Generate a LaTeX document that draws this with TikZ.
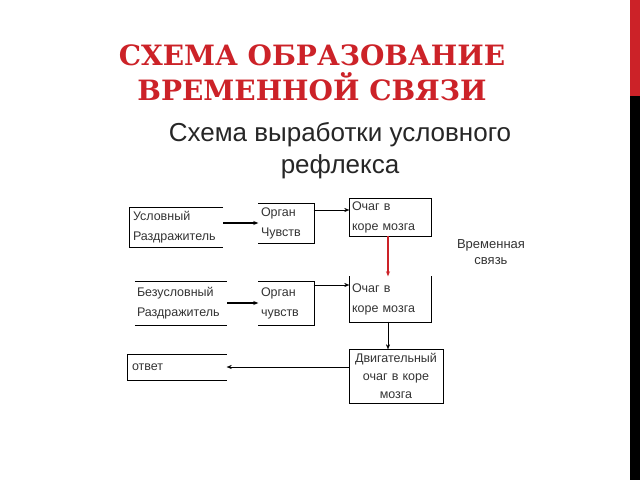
\documentclass[tikz,border=0pt]{standalone}
\usepackage{fontspec}
\setmainfont{Liberation Sans}
\newfontfamily\headfont{DejaVu Serif}
\usetikzlibrary{positioning,arrows.meta}
\definecolor{headred}{RGB}{204,34,40}
\begin{document}
\begin{tikzpicture}[x=1pt,y=-1pt,
    box/.style = {minimum width=#1, inner sep=0pt, align=left, font=\fontsize{12.5}{20}\selectfont, text=black!80},
    box/.default = 90pt,
    > = {Stealth[length=5pt,width=4pt]}
]
\useasboundingbox (0,0) rectangle (640,480);
\fill[headred] (630,0) rectangle (640,96);
\fill[black] (630,96) rectangle (640,480);
\node (title) [headred, font=\headfont\bfseries\fontsize{28}{35}\selectfont, align=center] at (312,73) {СХЕМА ОБРАЗОВАНИЕ\\ВРЕМЕННОЙ СВЯЗИ};
\node (sub) [font=\fontsize{26}{32}\selectfont, align=center, text=black!85] at (340,151) {Схема выработки условного\\рефлекса};

\node (cs) [box=94pt, minimum height=40pt, text width=86pt] at (176,227) {Условный\\Раздражитель};
\node (org1) [box=55pt, minimum height=40pt, text width=50pt] at (286,223) {Орган\\Чувств};
\node (foc1) [box=81pt, minimum height=37pt, text width=76pt] at (390,217) {Очаг в\\коре мозга};
\node (us) [box=92pt, minimum height=44pt, text width=88pt] at (181,303) {Безусловный\\Раздражитель};
\node (org2) [box=55pt, minimum height=44pt, text width=50pt] at (286,303) {Орган\\чувств};
\node (foc2) [box=81pt, minimum height=45pt, text width=76pt] at (390,299) {Очаг в\\коре мозга};
\node (mot) [box=94pt, minimum height=53pt, text width=92pt, align=center, font=\fontsize{12.5}{18}\selectfont] at (396,376) {Двигательный\\очаг в коре\\мозга};
\node (resp) [box=99pt, minimum height=25pt, text width=90pt] at (177,367) {ответ};
\node (tmp) [font=\fontsize{13}{16}\selectfont, align=center, text=black!80] at (491,252) {Временная\\связь};

% partial borders
\draw (cs.north east) -- (cs.north west) -- (cs.south west) -- (cs.south east);
\draw (org1.north west) -- (org1.north east) -- (org1.south east) -- (org1.south west);
\draw (foc1.north west) rectangle (foc1.south east);
\draw (us.north west) -- (us.north east) (us.south west) -- (us.south east);
\draw (org2.north west) -- (org2.north east) -- (org2.south east) -- (org2.south west);
\draw (foc2.north west) -- (foc2.south west) -- (foc2.south east) -- (foc2.north east);
\draw (mot.north west) rectangle (mot.south east);
\draw (resp.north east) -- (resp.north west) -- (resp.south west) -- (resp.south east);

% connectors
\draw[->, line width=1.2pt] (cs.east |- 0,223) -- (org1.west |- 0,223);
\draw[->] (org1.east |- 0,210) -- (foc1.west |- 0,210);
\draw[->, headred, line width=1.2pt] (foc1.south -| 388,0) -- (foc2.north -| 388,0);
\draw[->, line width=1.2pt] (us.east) -- (org2.west);
\draw[->] (org2.east |- 0,285) -- (foc2.west |- 0,285);
\draw[->] (foc2.south -| 388,0) -- (mot.north -| 388,0);
\draw[->] (mot.west |- resp.east) -- (resp.east);
\end{tikzpicture}
\end{document}
